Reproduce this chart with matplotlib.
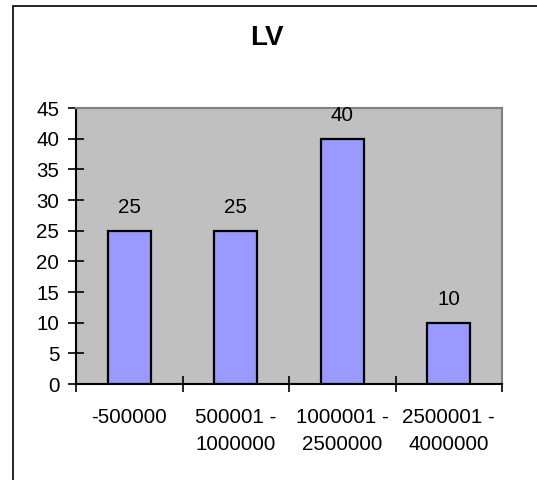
import matplotlib
matplotlib.use("Agg")
import matplotlib.pyplot as plt
from matplotlib.patches import Rectangle
import numpy as np

categories = ["-500000", "500001 -\n1000000", "1000001 -\n2500000", "2500001 -\n4000000"]
values = [25, 25, 40, 10]
title = "LV"
yticks = [0, 5, 10, 15, 20, 25, 30, 35, 40, 45]

plt.rcParams['font.family'] = ['Liberation Sans', 'DejaVu Sans']

W, H = 537, 480
FS = 14.8
fig = plt.figure(figsize=(W / 100, H / 100), dpi=100)
fig.patch.set_facecolor('white')

# outer frame (partially clipped on the right/bottom like the reference)
fig.patches.append(Rectangle((13 / W, -0.2), 2.0, 1.2 - 6 / H, transform=fig.transFigure,
                             fill=False, edgecolor='black', linewidth=1.2, clip_on=False))

ax = fig.add_axes([76 / W, 1 - 384 / H, (502 - 76) / W, (384 - 108) / H])
ax.set_facecolor('#C0C0C0')

x = np.arange(len(categories))
ax.bar(x, values, width=0.4, color='#9999FF', edgecolor='black', linewidth=1.6, zorder=3)

for xi, v in zip(x, values):
    ax.annotate(str(v), (xi, v), xytext=(0, 23), textcoords='offset pixels',
                ha='center', va='center', fontsize=FS, zorder=4)

ax.set_xlim(-0.5, len(categories) - 0.5)
ax.set_ylim(0, 45)
ax.set_yticks(yticks)
ax.set_yticklabels([str(t) for t in yticks], fontsize=FS)

ax.set_xticks(x)
ax.set_xticklabels(categories, fontsize=FS, linespacing=1.55)
ax.set_xticks(np.arange(-0.5, len(categories)), minor=True)
ax.tick_params(axis='x', which='major', length=0, pad=17)
ax.tick_params(axis='x', which='minor', length=12, direction='inout', width=1.2)
ax.tick_params(axis='y', length=12, direction='inout', width=1.2, pad=6)

for s in ['left', 'bottom']:
    ax.spines[s].set_color('black')
    ax.spines[s].set_linewidth(1.5)
for s in ['top', 'right']:
    ax.spines[s].set_color('#808080')
    ax.spines[s].set_linewidth(1.5)

fig.text(267 / W, 1 - 38 / H, title, ha='center', va='center', fontsize=20, fontweight='bold')

fig.savefig('out.png', dpi=100)
